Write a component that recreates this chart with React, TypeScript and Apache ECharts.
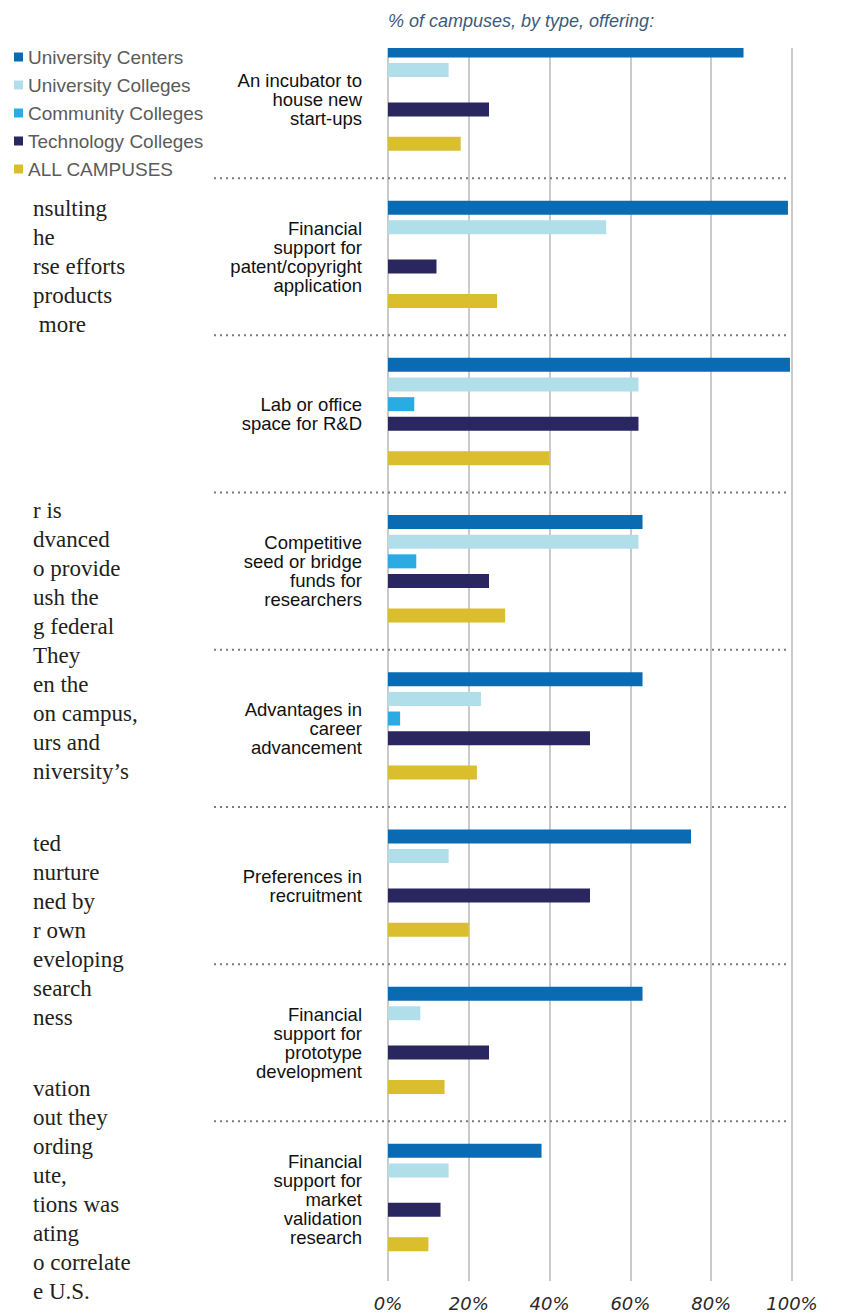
import React, { useEffect, useRef } from 'react';
import * as echarts from 'echarts';

// ---------- data ----------
const categories = [
  'An incubator to\nhouse new\nstart-ups',
  'Financial\nsupport for\npatent/copyright\napplication',
  'Lab or office\nspace for R&D',
  'Competitive\nseed or bridge\nfunds for\nresearchers',
  'Advantages in\ncareer\nadvancement',
  'Preferences in\nrecruitment',
  'Financial\nsupport for\nprototype\ndevelopment',
  'Financial\nsupport for\nmarket\nvalidation\nresearch',
];
const seriesNames = [
  'University Centers',
  'University Colleges',
  'Community Colleges',
  'Technology Colleges',
  'ALL CAMPUSES',
];
const universityCenters = [88, 99, 99.5, 63, 63, 75, 63, 38];
const universityColleges = [15, 54, 62, 62, 23, 15, 8, 15];
const communityColleges = [null, null, 6.5, 7, 3, null, null, null];
const technologyColleges = [25, 12, 62, 25, 50, 50, 25, 13];
const allCampuses = [18, 27, 40, 29, 22, 20, 14, 10];
const xTickMin = 0;
const xTickMax = 100;
const xTickStep = 20;
const chartTitle = '% of campuses, by type, offering:';

// visible fragments of the body text column (cut off at the left edge)
const bodyParagraphs = [
  ['nsulting', 'he', 'rse efforts', 'products', ' more'],
  ['r is', 'dvanced', 'o provide', 'ush the', 'g federal', 'They', 'en the', 'on campus,', 'urs and', 'niversity\u2019s'],
  ['ted', 'nurture', 'ned by', 'r own', 'eveloping', 'search', 'ness'],
  ['vation', 'out they', 'ording', 'ute,', 'tions was', 'ating', 'o correlate', 'e U.S.'],
];

// ---------- layout ----------
const colors = ['#0a6bb3', '#b0dfea', '#2aace3', '#2a2660', '#dbbe2e'];
const SLOTS_PER_GROUP = 32;
const ROW_OFFSETS = [0, 4, 8, 12, 19];
const LABEL_OFFSET = 10;
const SEPARATOR_OFFSET = 26;
const TOTAL_SLOTS = 251;
const paragraphTops = [208, 510, 843, 1088];
const lineStep = 29;

const allValues = [universityCenters, universityColleges, communityColleges, technologyColleges, allCampuses];

export default function App() {
  const ref = useRef<HTMLDivElement>(null);
  useEffect(() => {
    if (!ref.current) return;
    const chart = echarts.init(ref.current, null, { renderer: 'svg' });
    const slots = Array.from({ length: TOTAL_SLOTS }, (_, i) => String(i));
    const series = seriesNames.map((name, s) => {
      const data: any[] = new Array(TOTAL_SLOTS).fill('-');
      allValues[s].forEach((v, g) => {
        data[g * SLOTS_PER_GROUP + ROW_OFFSETS[s]] = v == null ? '-' : v;
      });
      return {
        name,
        type: 'bar',
        data,
        barWidth: 14,
        barGap: '-100%',
        itemStyle: { color: colors[s] },
      };
    });
    chart.setOption({
      animation: false,
      backgroundColor: '#ffffff',
      title: {
        text: chartTitle,
        left: 388,
        top: 12,
        padding: 0,
        textStyle: {
          fontSize: 18,
          fontStyle: 'italic',
          fontWeight: 'normal',
          color: '#3c5a78',
          fontFamily: 'Liberation Sans, Arial, sans-serif',
        },
      },
      legend: {
        orient: 'vertical',
        left: 14,
        top: 47,
        padding: 0,
        itemWidth: 9,
        itemHeight: 9,
        itemGap: 8,
        icon: 'rect',
        data: seriesNames,
        textStyle: {
          fontSize: 19,
          lineHeight: 20,
          color: '#5b5b5b',
          fontFamily: 'Liberation Sans, Arial, sans-serif',
        },
      },
      grid: { left: 388, width: 404, top: 48, height: 1233, containLabel: false },
      xAxis: {
        type: 'value',
        min: xTickMin,
        max: xTickMax,
        interval: xTickStep,
        axisLine: { show: false },
        axisTick: { show: false },
        splitLine: { show: true, lineStyle: { color: '#cacaca', width: 2 } },
        axisLabel: {
          formatter: '{value}%',
          fontStyle: 'italic',
          fontFamily: 'DejaVu Sans, sans-serif',
          fontSize: 18,
          color: '#2a2a2a',
          margin: 13,
        },
      },
      yAxis: {
        type: 'category',
        inverse: true,
        data: slots,
        axisLine: { show: false },
        axisTick: { show: false },
        splitLine: { show: false },
        axisLabel: {
          interval: 0,
          margin: 26,
          fontSize: 18.5,
          lineHeight: 19,
          color: '#111111',
          fontFamily: 'Liberation Sans, Arial, sans-serif',
          formatter: (_v: string, i: number) => {
            const g = Math.floor(i / SLOTS_PER_GROUP);
            return i % SLOTS_PER_GROUP === LABEL_OFFSET && g < categories.length ? categories[g] : '';
          },
        },
      },
      series,
    });

    const graphics: any[] = [];
    bodyParagraphs.forEach((lines, p) => {
      lines.forEach((t, k) => {
        graphics.push({
          type: 'text',
          style: {
            text: t,
            x: 33,
            y: paragraphTops[p] + k * lineStep,
            fill: '#231f20',
            font: '23px "Liberation Serif", serif',
            verticalAlign: 'middle',
          },
        });
      });
    });
    const xEnd = chart.convertToPixel({ xAxisIndex: 0 }, xTickMax) as number;
    for (let g = 0; g < categories.length - 1; g++) {
      const y = chart.convertToPixel({ yAxisIndex: 0 }, g * SLOTS_PER_GROUP + SEPARATOR_OFFSET) as number;
      graphics.push({
        type: 'line',
        shape: { x1: 214, y1: y, x2: xEnd - 2, y2: y },
        style: { stroke: '#7a7a7a', lineWidth: 2, lineDash: [2, 4] },
        z: 10,
      });
    }
    chart.setOption({ graphic: graphics });
    return () => chart.dispose();
  }, []);
  return (
    <div
      ref={ref}
      style={{ position: 'fixed', left: 0, top: 0, width: 841, height: 1313, background: '#fff' }}
    />
  );
}
